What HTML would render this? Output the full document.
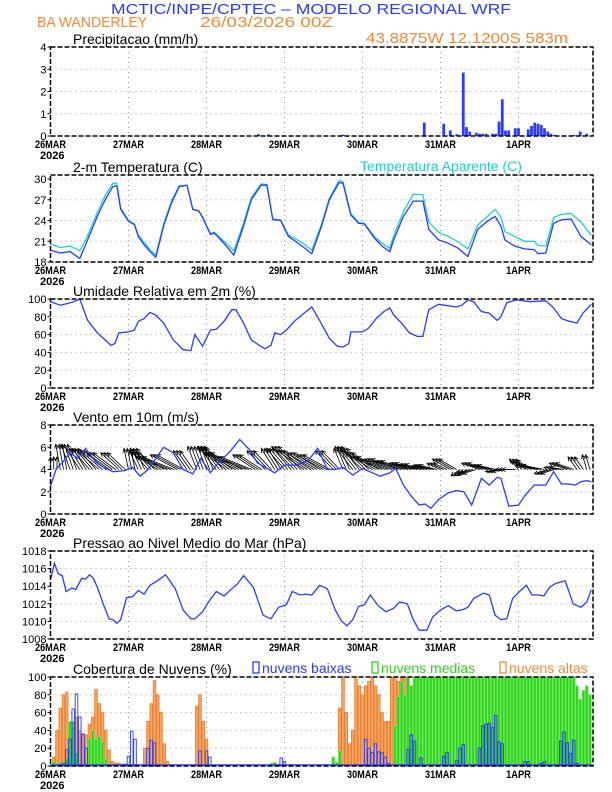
<!DOCTYPE html>
<html><head><meta charset="utf-8"><style>
html,body{margin:0;padding:0;background:#fff;}
svg{display:block;font-family:"Liberation Sans",sans-serif;}
</style></head><body>
<svg id="chart" width="612" height="792" viewBox="0 0 612 792" xmlns="http://www.w3.org/2000/svg">
<text x="111" y="14" font-size="15" fill="#2a3cff" textLength="400" lengthAdjust="spacingAndGlyphs">MCTIC/INPE/CPTEC – MODELO REGIONAL WRF</text>
<text x="37" y="27" font-size="15" fill="#f08a3a" textLength="110" lengthAdjust="spacingAndGlyphs">BA WANDERLEY</text>
<text x="200" y="27" font-size="15" fill="#f08a3a" textLength="133" lengthAdjust="spacingAndGlyphs">26/03/2026 00Z</text>
<text x="366" y="43" font-size="15" fill="#f08a3a" textLength="202" lengthAdjust="spacingAndGlyphs">43.8875W 12.1200S 583m</text>
<g id="plots"></g>
</svg>
<script>
// ---------- data ----------
const dayLabels = ["26MAR","27MAR","28MAR","29MAR","30MAR","31MAR","1APR"];
const precipHours = [64,67,90,115,121,123,125,127,128,129,131,132,133,134,136,137,138,139,140,141,143,144,147,148,149,150,151,152,153,154,155,161,163,165];
const precipVals  = [0.08,0.07,0.06,0.6,0.55,0.25,0.08,2.85,0.4,0.2,0.15,0.1,0.1,0.1,0.1,0.1,0.65,1.65,0.25,0.25,0.35,0.35,0.3,0.45,0.6,0.55,0.5,0.35,0.2,0.1,0.05,0.05,0.2,0.1];
const tempHours = [0,3,6,9,11.4,14.4,16.8,19.2,20.4,21.6,24,25.8,27,28.8,30.6,32.4,34.8,37.2,39.6,42,43.8,45.6,46.8,49.2,50.4,53.4,56.4,59.4,61.8,64.8,66.6,68.4,70.8,73.2,77.4,80.4,83.4,85.8,88.8,90,92.4,94.8,96.6,99.6,102,104.4,105.6,108.6,111.6,114.6,116.4,119.4,122.4,125.4,128.4,131.4,134.4,136.8,138.6,139.8,142.8,145.8,148.8,150,152.4,154.8,157.2,160.2,163.2,166.4];
const tempVals = [19.7,19.3,19.5,18.5,21.2,24.6,27,28.9,29,25.6,23.9,23.4,21.7,20.5,19.5,18.7,23.2,26.5,28.9,29.1,25.6,25.4,24.4,22,22.2,20.7,19,23.2,27,29.1,29.1,24.1,24,21.7,20.3,19.2,23.2,27,29.5,29.4,24.8,23.6,23.5,21.5,20.3,19.5,21.2,24.6,26.8,26.8,22.7,21.2,20.7,20,18.8,22.7,23.9,24.6,23.2,21.2,20.3,19.9,19.8,19.2,19.3,23.6,24.1,24.2,21.7,20.5];
const appTempVals = [20.6,20.1,20.3,19.6,21.8,25.2,27.6,29.4,29.4,25.8,24,23.5,21.9,20.8,19.8,19,23.5,26.8,29,29.1,25.6,25.4,24.5,22.1,22.3,21,19.6,23.6,27.3,29.3,29.2,24.2,24.1,21.9,20.8,19.7,23.5,27.2,29.8,29.6,25,23.7,23.6,21.7,20.7,20,21.8,25.3,27.8,27.7,23.8,22.3,21.7,20.9,19.9,23.3,24.6,25.6,24.5,22.4,21.7,21,21,20.4,20.3,24.4,24.9,25,23.8,21.8];
const rhHours = [0,3,5.4,7.2,9,11.4,14.4,16.8,18.6,19.8,21,24,25.8,27,28.8,30.6,32.4,34.8,37.8,40.8,43.2,44.4,46.8,49.2,51,53.4,55.8,57,59.4,61.8,64.2,66,67.8,69,70.8,72.6,75,78,80.4,82.8,85.8,88.2,90,91.8,92.4,96,97.8,100.2,102.6,104.4,105.6,108,110.4,112.8,114.6,116.4,119.4,121.2,124.8,126.6,128.4,130.2,132.6,135,137.4,138.6,140.4,143.4,147.6,152.4,154.8,157.2,159.6,162,163.8,166.4];
const rhVals = [97,93,95,97,100,76,62,54,48,50,62,63,65,75,78,85,82,73,54,43,42,60,47,65,66,75,88,88,73,54,48,44,48,62,60,65,75,84,91,76,56,47,46,50,63,63,67,78,86,90,82,73,62,58,58,88,94,93,91,93,99,97,86,84,76,80,96,99,97,98,90,78,75,73,84,94];
const windHours = [0,1.8,3.6,6,8.4,10.8,13.8,16.2,19.2,22.8,25.2,27.6,30,32.4,34.8,37.8,40.8,43.8,46.2,49.2,51.6,55.2,58.2,61.2,63.6,66,69,72,75.6,79.2,82.2,85.2,87.6,90,93,96,99,101.4,104.4,106.2,108.6,111,113.4,115.2,117,119.4,122.4,124.8,127.2,129.6,132.6,135,137.4,138.6,141,144,145.8,148.8,152.4,154.8,157.2,159.6,161.4,163.2,165,166.4];
const windVals = [2.5,4.1,4.6,5.5,5,5.9,4.7,4.2,3.8,3.9,4.2,3.4,4,5,6,5.5,4,3.6,5,3.7,4.6,5.6,6.7,5.8,4.6,4.2,3.7,4.4,4.4,4.8,5.9,4,4,4.2,3.5,4.1,3.7,3.4,3.7,4.1,2.6,1.6,0.8,0.9,0.5,1.3,1.9,2.1,2,0.8,3.2,2.6,3.3,3.2,0.7,0.8,1.6,2.6,2.6,3.8,2.7,2.7,2.6,2.9,3,2.9];
const windU = [0,-1,-2,-3,-4,-5,-5,-4,-1,-2,-4,-6,-7,-6,-3,-2,-2,-4,-6,-7,-7,-5,-4,-3,-4,-5,-6,-6,-6,-4,-2,-4,-5,-6,-7,-6,-6,-5,-5,-4,-3,-4,-2,-3,-4,-4,-3,-3,-2,-4,-5,-3,-3,-4,-2,-1];
const windV = [3,6,6,5,5,4.5,4,4,5,4.5,5,4,3,3.5,4.5,5.5,5.5,5.5,5,4,3,3.5,4.5,5,5,5.5,4.5,4,3.5,4.5,5,5.5,5,4,3,2.5,2,1.5,1.2,1,1.5,2.5,-1.5,-1,1.5,1,-0.5,0,2.5,2,1,-1,0.5,1.5,3,3.5];
const presHours = [0,1.2,2.4,3.6,4.8,6.6,7.8,9.6,10.8,12,13.2,14.4,16.2,18,19.2,20.4,21.6,23.4,25.2,27,28.8,30.6,32.4,35.4,38.4,40.8,43.2,44.4,46.8,48.6,51,53.4,55.8,57.6,59.4,62.4,65.4,67.8,70.2,72.6,74.4,76.8,78.6,80.4,82.8,85.2,87.6,89.4,91.2,93,94.8,96.6,98.4,100.8,103.2,105.6,107.4,109.8,111.6,113.4,115.8,117.6,120,122.4,124.8,126.6,128.4,130.2,133.2,135,136.8,138.6,140.4,142.2,144.6,146.4,148.2,150,151.8,153.6,155.4,157.2,158.4,160.8,163.2,165,166.4];
const presVals = [1014.7,1016.6,1015.4,1015.2,1013.4,1013.8,1013.6,1014.9,1014.8,1015.3,1014.9,1013.9,1012,1010.3,1010.2,1009.8,1010.2,1012.7,1012.8,1013.5,1013.1,1014.1,1014.5,1015.3,1013.7,1011.3,1010.3,1010.3,1011.1,1012.2,1013.4,1012.9,1013.7,1014.3,1015.2,1013.9,1010.7,1010.3,1011.6,1011.9,1013.4,1013,1013.1,1013,1014.1,1013.7,1011.3,1010.1,1009.5,1010.2,1011.7,1011.9,1013,1011.8,1011.1,1011.5,1012.2,1012,1010.2,1009,1009,1010.5,1011.3,1011.8,1011.2,1011.3,1011.6,1012.6,1013.2,1013,1010.7,1010.2,1010.3,1012.6,1013.5,1014.1,1013,1013,1012.9,1013.9,1014.3,1014.5,1014.6,1012,1011.6,1012.2,1013.6];
const highHours = [1,2,3,4,5,6,7,8,9,10,11,12,13,14,15,16,17,18,19,20,21,22,29,30,31,32,33,34,35,36,45,46,47,48,49,70,72,74,89,90,91,92,93,94,95,96,97,98,99,100,101,102,103,104,105,106,107,108,109,110];
const highVals  = [10,40,65,80,83,50,50,55,40,35,35,47,55,86,70,60,40,18,5,3,3,2,20,50,70,96,80,60,25,5,67,80,50,30,0,2,2,2,65,100,60,25,40,100,90,80,90,95,100,90,80,60,50,50,100,100,95,100,100,95];
const midHours = [1,3,5,6,7,8,12,13,14,15,16,17,68,69,87,88,89,106,107,108,109,110,111,112,113,114,115,116,117,118,119,120,121,122,123,124,125,126,127,128,129,130,131,132,133,134,135,136,137,138,139,140,141,142,143,144,145,146,147,148,149,150,151,152,153,154,155,156,157,158,159,160,161,162,163,164,165,166];
const midVals  = [5,4,8,50,50,15,30,40,30,33,27,8,3,4,10,4,17,45,78,95,80,100,90,100,100,100,100,100,100,100,100,100,100,100,100,100,100,100,100,100,100,100,100,100,100,100,100,100,100,100,100,100,100,100,100,100,100,100,100,100,100,100,100,100,100,100,100,100,100,100,100,100,100,90,75,85,90,80];
const lowHours = [4,5,6,7,8,9,10,11,23,24,25,26,30,31,32,46,48,49,71,72,97,98,99,100,101,102,103,104,110,111,112,114,121,122,125,126,127,132,133,134,135,136,137,138,139,146,147,151,152,157,158,159,160,161,162];
const lowVals  = [3,18,30,64,81,55,36,20,2,11,39,30,20,29,26,17,17,10,9,5,30,20,15,25,16,15,10,3,19,35,28,9,11,15,6,20,24,20,45,47,48,43,57,27,25,5,5,3,5,28,38,26,14,29,3];

// ---------- layout ----------
const SVGNS = "http://www.w3.org/2000/svg";
const root = document.getElementById("plots");
const X0 = 50.5, DAYW = 78;
const X = h => X0 + h * DAYW / 24;
const XR = 593;
function el(tag, attrs, parent) {
  const e = document.createElementNS(SVGNS, tag);
  for (const k in attrs) e.setAttribute(k, attrs[k]);
  (parent || root).appendChild(e);
  return e;
}
function makePanel(name, bottom, top, ymin, ymax, ticks, title) {
  const g = el("g", {});
  
  
  const Y = v => bottom - (v - ymin) / (ymax - ymin) * (bottom - top);
  ticks.forEach(t => {
    if (t > ymin && t < ymax) {
      const gl = el("line", {x1: X0, x2: XR, y1: Y(t), y2: Y(t), stroke: "#999", "stroke-width": 1, "stroke-dasharray": "1,4"}, g);
      
      
    }
    const tl = el("text", {x: X0 - 4, y: Y(t) + 4, "font-size": 11, "text-anchor": "end", fill: "#000"}, g);
    tl.textContent = t;
    
    
    el("line", {x1: X0 - 3, x2: X0, y1: Y(t), y2: Y(t), stroke: "#000"}, g);
  });
  dayLabels.forEach((d, i) => {
    const x = X(i * 24);
    if (i > 0) {
      const vl = el("line", {x1: x, x2: x, y1: top, y2: bottom, stroke: "#999", "stroke-width": 1, "stroke-dasharray": "1,4"}, g);
      
      
    }
    const t = el("text", {x: x, y: bottom + 12, "font-size": 11, "text-anchor": "middle", "font-weight": "bold", fill: "#000", textLength: d.length * 6.2, lengthAdjust: "spacingAndGlyphs"}, g);
    t.textContent = d;
    
    
  });
  const yr = el("text", {x: 40, y: bottom + 23, "font-size": 11, fill: "#000", "font-weight": "bold"}, g);
  yr.textContent = "2026";
  
  
  const tt = el("text", {x: 73, y: top - 3, "font-size": 14, fill: "#000"}, g);
  tt.textContent = title;
  
  
  return {g, Y, top, bottom};
}
function border(p) {
  const r = el("rect", {x: X0, y: p.top, width: XR - X0, height: p.bottom - p.top, fill: "none", stroke: "#000", "stroke-width": 1.5, "stroke-dasharray": "5,2"}, p.g);
  
  
}
function line(p, hs, vs, color, name) {
  const d = hs.map((h, i) => (i ? "L" : "M") + X(h).toFixed(1) + "," + p.Y(vs[i]).toFixed(1)).join("");
  const pth = el("path", {d, fill: "none", stroke: color, "stroke-width": 1.3}, p.g);
  
  
}

// Precip
const p1 = makePanel("precip", 136, 47, 0, 4, [0,1,2,3,4], "Precipitacao (mm/h)");
precipHours.forEach((h, i) => {
  const b = el("rect", {x: X(h) - 1.4, y: p1.Y(precipVals[i]), width: 2.8, height: p1.bottom - p1.Y(precipVals[i]), fill: "#2a3cff"}, p1.g);
  
  
});
border(p1);

// Temperature
const p2 = makePanel("temperature", 262, 175, 18, 30.58, [18,21,24,27,30], "2-m Temperatura (C)");
const at = el("text", {x: 360, y: 171, "font-size": 14, fill: "#20d0c8"}, p2.g);
at.textContent = "Temperatura Aparente (C)";


line(p2, tempHours, appTempVals, "#20d0c8", "apparent-temperature-line");
line(p2, tempHours, tempVals, "#2a3cff", "temperature-line");
border(p2);

// RH
const p3 = makePanel("humidity", 388, 299, 0, 100, [0,20,40,60,80,100], "Umidade Relativa em 2m (%)");
line(p3, rhHours, rhVals, "#2a3cff", "humidity-line");
border(p3);

// Wind
const p4 = makePanel("wind", 514, 425, 0, 8, [0,2,4,6,8], "Vento em 10m (m/s)");
const baseY = p4.Y(4);
for (let h = 0; h <= 166; h++) {
  const k = Math.min(windU.length - 1, Math.floor(h / 3));
  const x = X(h), dx = windU[k] * 4.5, dy = -windV[k] * 4.2;
  const x2 = x + dx, y2 = baseY + dy;
  const len = Math.hypot(dx, dy) || 1, ux = dx / len, uy = dy / len;
  const a = el("path", {d: `M${x},${baseY}L${x2},${y2}M${x2 - ux*4 - uy*2},${y2 - uy*4 + ux*2}L${x2},${y2}L${x2 - ux*4 + uy*2},${y2 - uy*4 - ux*2}`, stroke: "#000", "stroke-width": 0.8, fill: "none"}, p4.g);
  
  
}
line(p4, windHours, windVals, "#2a3cff", "wind-speed-line");
border(p4);

// Pressure
const p5 = makePanel("pressure", 639, 551, 1008, 1018, [1008,1010,1012,1014,1016,1018], "Pressao ao Nivel Medio do Mar (hPa)");
line(p5, presHours, presVals, "#2a3cff", "pressure-line");
border(p5);

// Clouds
const p6 = makePanel("clouds", 766, 677, 0, 100, [0,20,40,60,80,100], "Cobertura de Nuvens (%)");
function bars(hs, vs, fill, stroke, name) {
  hs.forEach((h, i) => {
    const y = p6.Y(vs[i]);
    const b = el("rect", {x: X(h) - 1.3, y: y, width: 2.6, height: p6.bottom - y, fill: fill, stroke: stroke, "stroke-width": 0.9}, p6.g);
    
    
  });
}
bars(highHours, highVals, "#f6a868", "#ee8030", "high-cloud-bar");
bars(midHours, midVals, "#33cc22", "#66ee55", "mid-cloud-bar");
bars(lowHours, lowVals, "none", "#2a3cff", "low-cloud-bar");
const bl = el("line", {x1: X0, x2: XR, y1: p6.bottom - 1, y2: p6.bottom - 1, stroke: "#2a3cff", "stroke-width": 1.5}, p6.g);


border(p6);
const legend = [["nuvens baixas", "#2a3cff", 253], ["nuvens medias", "#33cc22", 372], ["nuvens altas", "#f08a3a", 500]];
legend.forEach(l => {
  const r = el("rect", {x: l[2], y: 662, width: 6, height: 11, fill: "none", stroke: l[1], "stroke-width": 1.3}, p6.g);
  
  
  const t = el("text", {x: l[2] + 9, y: 673, "font-size": 14, fill: l[1]}, p6.g);
  t.textContent = l[0];
  
  
});
</script>
</body></html>
